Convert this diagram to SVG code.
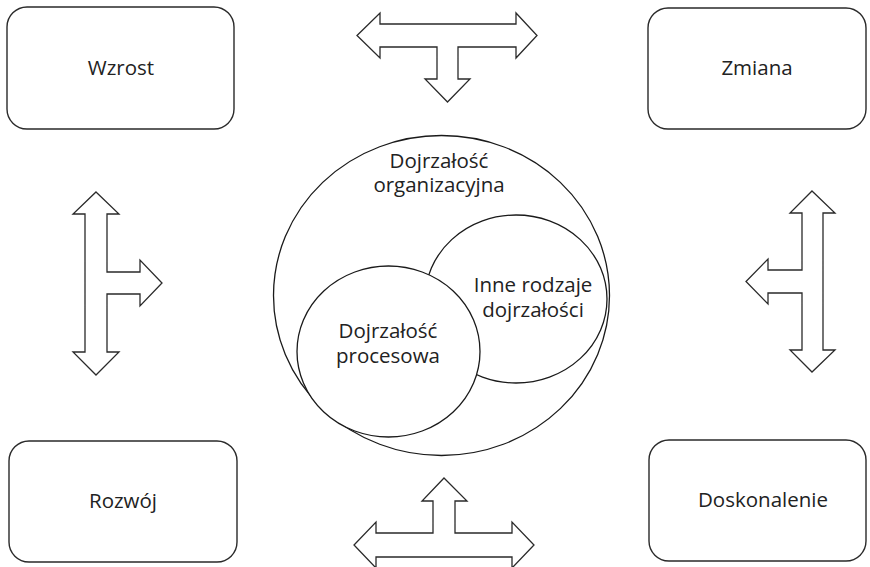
<svg xmlns="http://www.w3.org/2000/svg" width="870" height="567" viewBox="0 0 870 567">
  <style>
    .box { fill: #ffffff; stroke: #2a2a2a; stroke-width: 1.4; }
    .arrow { fill: #ffffff; stroke: #2a2a2a; stroke-width: 1.3; stroke-linejoin: miter; }
    .ring { fill: #ffffff; stroke: #1a1a1a; stroke-width: 1.3; }
    .label { font-family: "Open Sans", "Noto Sans", sans-serif; font-size: 20.5px; fill: #222222; text-anchor: middle; }
  </style>
  <rect width="870" height="567" fill="#ffffff"/>

  <!-- corner boxes -->
  <g id="wzrost">
    <rect class="box" x="7" y="7" width="227" height="122" rx="20" ry="20"/>
    <text class="label" x="121" y="75">Wzrost</text>
  </g>
  <g id="zmiana">
    <rect class="box" x="648" y="8" width="218" height="121" rx="20" ry="20"/>
    <text class="label" x="757" y="75">Zmiana</text>
  </g>
  <g id="rozwoj">
    <rect class="box" x="9" y="441" width="228" height="121" rx="20" ry="20"/>
    <text class="label" x="123" y="508">Rozwój</text>
  </g>
  <g id="doskonalenie">
    <rect class="box" x="649" y="440" width="217" height="121" rx="20" ry="20"/>
    <text class="label" x="763" y="507">Doskonalenie</text>
  </g>

  <!-- central nested circles -->
  <g id="dojrzalosc-organizacyjna">
    <ellipse class="ring" cx="441.5" cy="295.5" rx="168" ry="160"/>
    <text class="label" x="439" y="168">Dojrzałość</text>
    <text class="label" x="439" y="192">organizacyjna</text>
  </g>
  <g id="inne-rodzaje">
    <ellipse class="ring" cx="516" cy="299" rx="91" ry="84"/>
    <text class="label" x="533" y="292">Inne rodzaje</text>
    <text class="label" x="533" y="317">dojrzałości</text>
  </g>
  <g id="dojrzalosc-procesowa">
    <ellipse class="ring" cx="388.5" cy="351.5" rx="91.5" ry="85.5"/>
    <text class="label" x="388" y="338">Dojrzałość</text>
    <text class="label" x="388" y="363">procesowa</text>
  </g>

  <!-- block arrows between the boxes -->
  <g id="connectors">
    <path class="arrow" d="M357,35.5 L380,13 L380,24 L516,24 L516,13 L537,35.5 L516,58 L516,47 L458,47 L458,79 L470,79 L447.5,102 L425,79 L437,79 L437,47 L380,47 L380,58 Z"/>
    <path class="arrow" d="M444,478 L467,501 L455,501 L455,533 L512,533 L512,522 L534,545 L512,568 L512,557 L376,557 L376,568 L354,545 L376,522 L376,533 L433,533 L433,501 L422,501 Z"/>
    <path class="arrow" d="M96,192 L119,214 L107,214 L107,272 L140,272 L140,260 L162,283 L140,306 L140,294 L107,294 L107,352 L119,352 L96,375 L73,352 L85,352 L85,214 L73,214 Z"/>
    <path class="arrow" d="M812,191 L835,213 L823,213 L823,350 L835,350 L812,372 L790,350 L802,350 L802,293 L768,293 L768,304 L746,281.5 L768,259 L768,270 L802,270 L802,213 L790,213 Z"/>
  </g>
</svg>
